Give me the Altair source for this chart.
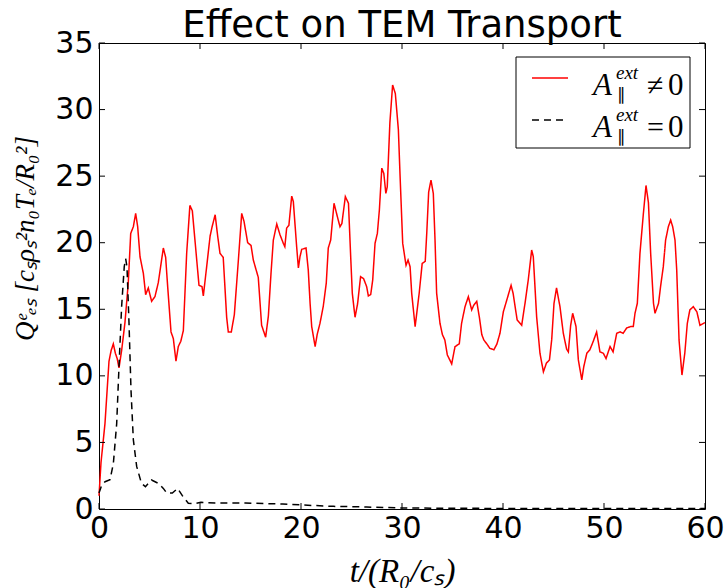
import altair as alt
import pandas as pd

# ---- data ----
t_red = [0.0, 0.2, 0.59, 0.99, 1.2, 1.42, 1.62, 1.8, 1.98, 2.24, 2.57, 2.9, 3.14, 3.4, 3.63, 3.83,
         4.06, 4.39, 4.62, 4.88, 5.21, 5.54, 5.87, 6.37, 6.6, 6.8, 7.13, 7.36, 7.62, 7.85, 8.1, 8.35,
         8.68, 9.0, 9.24, 9.5, 9.9, 10.2, 10.33, 10.66, 11.0, 11.2, 11.5, 11.75, 11.98, 12.3, 12.64,
         12.8, 13.1, 13.4, 13.8, 14.13, 14.36, 14.72, 15.05, 15.28, 15.54, 15.77, 16.1, 16.5, 16.77,
         17.03, 17.26, 17.6, 17.92, 18.25, 18.4, 18.58, 18.8, 19.08, 19.24, 19.57, 19.74, 19.9, 20.07,
         20.5, 20.72, 20.9, 21.06, 21.4, 21.6, 21.88, 22.2, 22.5, 22.7, 22.94, 23.27, 23.6, 23.86,
         24.05, 24.39, 24.7, 24.92, 25.08, 25.35, 25.6, 25.9, 26.2, 26.5, 26.67, 26.9, 27.1, 27.33,
         27.56, 27.76, 28.0, 28.2, 28.4, 28.54, 28.8, 29.07, 29.34, 29.64, 29.8, 30.07, 30.4, 30.6,
         30.8, 30.96, 31.3, 31.7, 32.0, 32.3, 32.45, 32.64, 32.87, 33.1, 33.27, 33.43, 33.76, 34.0,
         34.24, 34.49, 34.92, 35.25, 35.67, 35.9, 36.24, 36.57, 36.9, 37.1, 37.4, 37.66, 37.9, 38.1,
         38.4, 38.7, 39.1, 39.4, 39.7, 40.03, 40.3, 40.8, 41.0, 41.4, 41.85, 42.18, 42.5, 42.84, 43.0,
         43.33, 43.66, 44.0, 44.3, 44.6, 44.82, 45.05, 45.3, 45.64, 45.97, 46.3, 46.47, 46.7, 46.9,
         47.23, 47.46, 47.8, 48.0, 48.3, 48.6, 48.94, 49.27, 49.6, 49.93, 50.2, 50.6, 50.9, 51.26,
         51.6, 51.9, 52.25, 52.64, 52.9, 53.07, 53.3, 53.56, 53.9, 54.16, 54.4, 54.62, 54.9, 55.05,
         55.4, 55.6, 55.87, 56.1, 56.37, 56.6, 56.8, 57.03, 57.2, 57.43, 57.72, 58.0, 58.25, 58.5,
         58.84, 59.2, 59.5, 60.0]
q_red = [1.0, 3.5, 6.4, 11.1, 11.9, 12.4, 11.7, 11.3, 10.6, 11.9, 14.0, 17.0, 20.7, 21.2, 22.2, 21.2,
         18.95, 17.7, 16.1, 16.6, 15.6, 15.95, 17.0, 19.6, 18.9, 16.7, 13.3, 12.8, 11.1, 12.2, 12.6, 13.4,
         19.2, 22.8, 22.4, 20.2, 16.8, 16.7, 16.0, 18.2, 20.5, 21.2, 22.1, 20.5, 19.2, 18.9, 14.4,
         13.3, 13.3, 14.6, 18.7, 22.2, 21.6, 20.0, 19.8, 18.7, 18.0, 17.4, 13.8, 12.9, 14.5,
         17.7, 20.2, 21.4, 20.6, 19.95, 19.7, 21.1, 21.3, 23.5, 23.1, 19.7, 18.1, 18.95, 19.5,
         19.6, 17.95, 15.45, 13.7, 12.2, 13.1, 13.95, 15.2, 16.95, 19.6, 20.2, 22.96, 21.96, 21.2,
         21.45, 23.46, 22.96, 18.95, 16.2, 14.4, 15.4, 17.45, 17.3, 16.7, 16.0, 16.1, 17.2, 19.95,
         20.7, 22.46, 25.6, 25.2, 23.7, 24.2, 29.0, 31.85, 31.2, 28.5, 25.2, 19.95, 18.3, 18.7,
         18.2, 16.2, 13.7, 16.2, 18.45, 18.6, 20.7, 23.8, 24.7, 23.7, 20.2, 16.2, 13.95, 13.1,
         12.7, 11.57, 10.9, 12.2, 12.4, 13.95, 15.2, 15.95, 14.95, 15.3, 15.6, 14.4, 13.1, 12.7,
         12.4, 12.07, 11.96, 12.4, 13.2, 14.8, 15.5, 16.8, 16.2, 14.2, 13.8, 15.45, 17.2, 19.45, 18.95,
         14.45, 11.7, 10.3, 10.96, 11.2, 12.7, 15.45, 16.6, 15.2, 13.2, 12.0, 11.8, 13.8, 14.7,
         13.7, 11.2, 9.7, 10.7, 11.7, 11.96, 12.6, 13.3, 11.8, 11.7, 11.3, 12.2, 11.8, 13.2,
         13.3, 13.2, 13.6, 13.7, 13.7, 14.7, 15.45, 19.2, 22.2, 24.3, 23.0, 19.2, 15.45, 14.7,
         15.45, 16.7, 18.2, 20.2, 21.2, 21.7, 21.2, 20.2, 17.95, 12.7, 10.06, 11.7, 13.95, 14.95,
         15.2, 14.8, 13.8, 14.0]

t_blk = [0.0, 0.27, 0.6, 1.09, 1.42, 1.75, 1.98, 2.24, 2.5, 2.64, 2.77, 2.97, 3.17, 3.4, 3.73, 4.2,
         4.6, 5.2, 5.87, 6.37, 6.7, 7.26, 7.79, 8.25, 8.84, 9.5, 10.1, 11.5, 14.5, 16.5, 18.2, 20.07,
         23.2, 26.5, 29.8, 35.0, 45.0, 60.0]
q_blk = [1.2, 1.8, 2.05, 2.2, 3.4, 6.4, 10.7, 15.2, 18.2, 18.8, 18.2, 14.0, 8.9, 5.2, 3.2, 1.93,
         1.68, 2.18, 1.93, 1.55, 1.2, 1.2, 1.55, 1.0, 0.43, 0.4, 0.5, 0.45, 0.45, 0.4, 0.38, 0.3,
         0.2, 0.15, 0.08, 0.05, 0.04, 0.03]

series_names = ["A_ext_nonzero", "A_ext_zero"]
x_ticks = [0, 10, 20, 30, 40, 50, 60]
y_ticks = [0, 5, 10, 15, 20, 25, 30, 35]
title_text = "Effect on TEM Transport"

df = pd.concat([
    pd.DataFrame({"t": t_red, "q": q_red, "series": series_names[0]}),
    pd.DataFrame({"t": t_blk, "q": q_blk, "series": series_names[1]}),
], ignore_index=True)

W, H = 606, 466
xscale = alt.Scale(domain=[0, 60], nice=False, zero=False)
yscale = alt.Scale(domain=[0, 35], nice=False, zero=False)

xaxis = alt.Axis(values=x_ticks, ticks=False, domain=False, grid=False,
                 labelFont="DejaVu Sans", labelFontSize=30, labelColor="black",
                 labelPadding=4, labelFlush=False, labelOverlap=False,
                 title="t/(R₀/cₛ)", titleFont="Liberation Serif", titleFontStyle="italic",
                 titleFontWeight="normal", titleFontSize=33, titleColor="black",
                 titleX=W / 2, titleY=72, titleAlign="center", titleBaseline="alphabetic")
yaxis = alt.Axis(values=y_ticks, ticks=False, domain=False, grid=False,
                 labelFont="DejaVu Sans", labelFontSize=30, labelColor="black",
                 labelPadding=6, labelFlush=False, labelOverlap=False,
                 title="Qᵉₑₛ [cₛρₛ²n₀Tₑ/R₀²]", titleFont="Liberation Serif", titleFontStyle="italic",
                 titleFontWeight="normal", titleFontSize=27, titleColor="black",
                 titleAngle=270, titleX=-74, titleY=195, titleAlign="center", titleBaseline="middle")

lines = alt.Chart(df).mark_line(strokeWidth=1.5).encode(
    x=alt.X("t:Q", scale=xscale, axis=xaxis),
    y=alt.Y("q:Q", scale=yscale, axis=yaxis),
    color=alt.Color("series:N", scale=alt.Scale(domain=series_names, range=["#ff0000", "#000000"]), legend=None),
    strokeDash=alt.StrokeDash("series:N", scale=alt.Scale(domain=series_names, range=[[1, 0], [7, 5]]), legend=None),
)

xt = pd.DataFrame({"v": x_ticks})
yt = pd.DataFrame({"v": y_ticks})
tick_len = 6
tb = alt.Chart(xt).mark_rule(color="black", strokeWidth=1).encode(
    x=alt.X("v:Q", scale=xscale, axis=xaxis), y=alt.value(H), y2=alt.value(H - tick_len))
tt = alt.Chart(xt).mark_rule(color="black", strokeWidth=1).encode(
    x=alt.X("v:Q", scale=xscale, axis=xaxis), y=alt.value(0), y2=alt.value(tick_len))
tl = alt.Chart(yt).mark_rule(color="black", strokeWidth=1).encode(
    y=alt.Y("v:Q", scale=yscale, axis=yaxis), x=alt.value(0), x2=alt.value(tick_len))
tr = alt.Chart(yt).mark_rule(color="black", strokeWidth=1).encode(
    y=alt.Y("v:Q", scale=yscale, axis=yaxis), x=alt.value(W), x2=alt.value(W - tick_len))

one = pd.DataFrame({"k": [0]})

# ---- chart title as a text mark (so it stays inside the top padding) ----
title = alt.Chart(one).mark_text(text=title_text, font="DejaVu Sans", fontSize=37,
                                 align="center", baseline="alphabetic", color="black").encode(
    x=alt.value(W / 2), y=alt.value(-6))

# ---- manual legend (box, symbols, math-like labels) ----
box = alt.Chart(one).mark_rect(fill="white", stroke="black", strokeWidth=1).encode(
    x=alt.value(417), x2=alt.value(591), y=alt.value(14), y2=alt.value(105))
sym1 = alt.Chart(one).mark_rule(color="#ff0000", strokeWidth=1.5).encode(
    x=alt.value(433), x2=alt.value(469), y=alt.value(35))
sym2 = alt.Chart(one).mark_rule(color="black", strokeWidth=1.5, strokeDash=[7, 5]).encode(
    x=alt.value(433), x2=alt.value(469), y=alt.value(77))

def lbl(text, x, y, size, italic=True):
    return alt.Chart(one).mark_text(text=text, font="Liberation Serif", fontSize=size,
                                    fontStyle="italic" if italic else "normal",
                                    align="left", baseline="alphabetic", color="black").encode(
        x=alt.value(x), y=alt.value(y))

legend_layers = []
for dy, rel in [(0, "≠"), (42, "=")]:
    legend_layers += [
        lbl("A", 494, 52 + dy, 31),
        lbl("ext", 517, 36 + dy, 19),
        lbl("∥", 518, 57 + dy, 17, italic=False),
        lbl(rel, 548, 52 + dy, 30, italic=False),
        lbl("0", 569, 52 + dy, 31, italic=False),
    ]

chart = alt.layer(lines, tb, tt, tl, tr, title, box, sym1, sym2, *legend_layers).properties(
    width=W, height=H,
    autosize=alt.AutoSizeParams(type="none"),
    padding={"left": 99, "top": 43, "right": 19, "bottom": 79},
    background="white",
).configure_view(stroke="black", strokeWidth=1)

chart.save("out.html", embed_options={"renderer": "svg", "actions": False})
